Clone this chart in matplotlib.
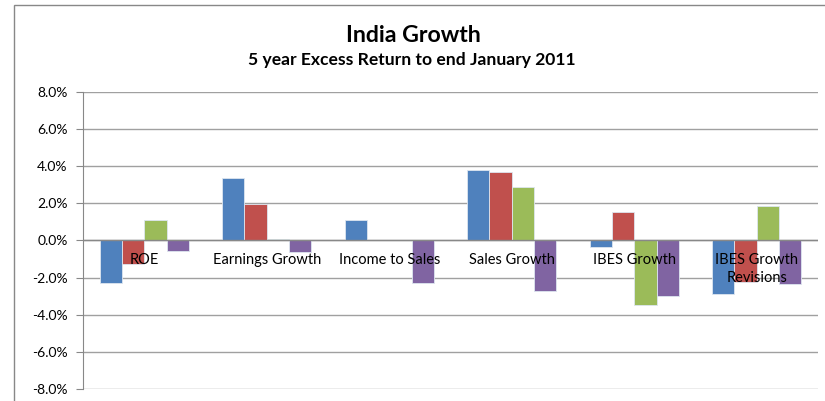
import matplotlib
matplotlib.use("Agg")
import matplotlib.pyplot as plt
import numpy as np
from matplotlib.patches import Rectangle

plt.rcParams['font.family'] = ['Lato', 'DejaVu Sans']

categories = ["ROE", "Earnings Growth", "Income to Sales", "Sales Growth",
              "IBES Growth", "IBES Growth\nRevisions"]
series_1 = [-2.3, 3.35, 1.1, 3.78, -0.33, -2.87]
series_2 = [-1.25, 1.97, 0.05, 3.68, 1.55, -2.22]
series_3 = [1.1, 0.07, 0.0, 2.9, -3.5, 1.85]
series_4 = [-0.57, -0.63, -2.27, -2.72, -2.97, -2.37]
tick_values = [-8, -6, -4, -2, 0, 2, 4, 6, 8]

colors = ["#4F81BD", "#C0504D", "#9BBB59", "#8064A2"]
all_series = [series_1, series_2, series_3, series_4]

fig = plt.figure(figsize=(8.25, 4.01), dpi=100)
# outer chart frame
fig.patches.append(Rectangle((14/825, -0.1), 1.2, 1 - 5/401 + 0.1,
                             transform=fig.transFigure, fill=False,
                             edgecolor="#888888", linewidth=1.0))

ax = fig.add_axes([83/825, 1 - 389/401, 735/825, (389 - 92)/401])

x = np.arange(len(categories))
bar_w = 1 / (4 + 1.5)
for i, (vals, c) in enumerate(zip(all_series, colors)):
    ax.bar(x + (i - 1.5) * bar_w, vals, width=bar_w, color=c,
           edgecolor="#DDE6F0", linewidth=0.6, zorder=3)

ax.set_xlim(-0.5, len(categories) - 0.5)
ax.set_ylim(-8, 8)
ax.set_yticks(tick_values)
ax.set_yticklabels(["%.1f%%" % v for v in tick_values], fontsize=10)
ax.yaxis.grid(True, color="#A0A0A0", linewidth=1.0, zorder=0)
ax.set_axisbelow(True)
ax.tick_params(axis="y", direction="out", length=5, color="#888888", pad=6)
ax.set_xticks([])
for s in ["top", "right", "bottom"]:
    ax.spines[s].set_visible(False)
ax.spines["left"].set_color("#888888")
ax.axhline(0, color="#888888", linewidth=1.0, zorder=4)

for xi, lab in zip(x, categories):
    ax.text(xi, -0.7, lab, ha="center", va="top", fontsize=10.5,
            linespacing=1.3, zorder=5)

fig.text(0.5 + 0.5/825, 1 - 35/401, "India Growth", ha="center", va="center",
         fontsize=16.7, fontweight="bold")
fig.text(0.5 - 1/825, 1 - 60/401, "5 year Excess Return to end January 2011",
         ha="center", va="center", fontsize=12.6, fontweight="bold")

fig.savefig("out.png", dpi=100)
